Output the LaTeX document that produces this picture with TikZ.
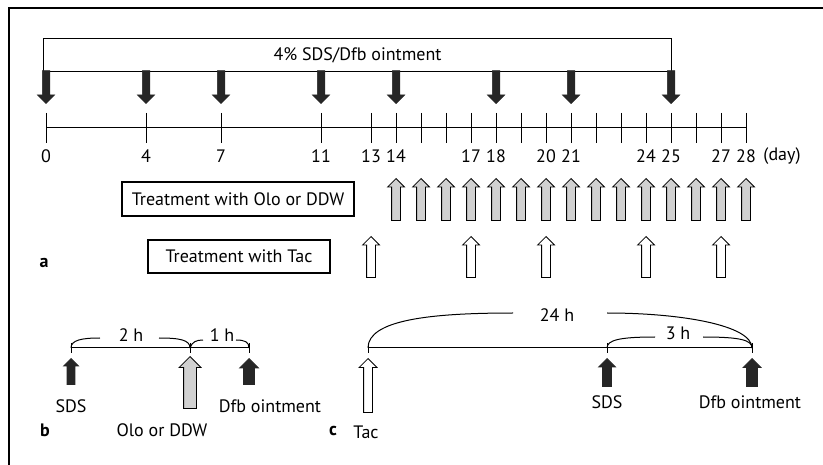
\documentclass[tikz,border=0pt]{standalone}
\usepackage{fontspec}
\setmainfont{PT Sans}
\usetikzlibrary{shapes.arrows,calc}

\begin{document}
\begin{tikzpicture}[
  x=1pt, y=-1pt, line width=1pt,
  font=\fontsize{18}{21}\selectfont,
  box/.style={draw, line width=1.1pt, inner sep=0pt},
  blkdown/.style={single arrow, draw=black!85, fill=black!85, line width=0.5pt, inner sep=3.5pt,
    single arrow head extend=5pt, minimum height=33pt,
    shape border rotate=270, anchor=tip},
  grayup/.style={single arrow, draw, fill=black!18, line width=0.8pt, inner sep=4pt,
    single arrow head extend=4pt, minimum height=42pt,
    shape border rotate=90, anchor=tip},
  whiteup/.style={grayup, fill=white},
  blkup/.style={grayup, draw=black!85, fill=black!85},
  panel/.style={font=\fontsize{18}{21}\selectfont\bfseries},
]
\useasboundingbox (0,0) rectangle (823,465);
% frame
\draw[line width=1.6pt] (9,465) -- (9,8) -- (823,8);

% a: ointment bar and day axis
\node[box, minimum width=628pt, minimum height=33pt, anchor=north west] (bar) at (43,38) {4\% SDS/Dfb ointment};
\draw (46,128) -- (746,128);
\foreach \d in {0,4,7,11,13,14,...,28} {
  \coordinate (d\d) at ({46+25*\d},128);
  \draw ([yshift=15pt]d\d) -- ([yshift=-15pt]d\d);
}
\foreach \d in {0,4,7,11,13,14,17,18,20,21,24,25,27,28}
  \node (l\d) at ({46+25*\d},156) {\d};
\node (unit) at (782,156) {(day)};
\foreach \d in {0,4,7,11,14,18,21,25}
  \node[blkdown] (oint\d) at ({46+25*\d},104) {};

% treatment rows
\node[box, minimum width=232pt, minimum height=34pt] (olo) at (238,199) {Treatment with Olo or DDW};
\foreach \d in {14,...,28}
  \node[grayup] (olo\d) at ({46+25*\d},178) {};
\node[box, minimum width=182pt, minimum height=33pt] (tac) at (239,256.5) {Treatment with Tac};
\foreach \d in {13,17,20,24,27}
  \node[whiteup, minimum height=41pt] (tac\d) at ({46+25*\d},236) {};
\node[panel] (pa) at (44,263) {a};

% b: one day, SDS -> Olo/DDW -> Dfb
\coordinate (bsds) at (71,348);
\coordinate (bolo) at (190,348);
\coordinate (bdfb) at (249,348);
\draw (bsds) -- (bdfb);
\foreach \c in {bsds,bolo,bdfb}
  \draw ([yshift=5pt]\c) -- ([yshift=-5pt]\c);
\node (b2h) at (131,335) {2 h};
\node (b1h) at (222,335) {1 h};
\draw (bsds) .. controls (71,340) and (82,338) .. (100,338);
\draw (bolo) .. controls (190,340) and (180,338) .. (159,338);
\draw (bolo) .. controls (192,342) and (196,340) .. (203,340);
\draw (bdfb) .. controls (249,342) and (245,340) .. (236,340);
\node[blkup, inner sep=3.5pt, single arrow head extend=3.5pt, minimum height=26pt] (sdsb) at (71,358) {};
\node[grayup, inner sep=6pt, single arrow head extend=4.5pt, minimum height=52pt] (olob) at (190,356) {};
\node[blkup, inner sep=5pt, single arrow head extend=4pt, minimum height=26pt] (dfbb) at (249,358) {};
\node (sdsbl) at (71,406) {SDS};
\node (dfbbl) at (270,406) {Dfb ointment};
\node (olobl) at (162,430) {Olo or DDW};
\node[panel] (pb) at (45,430) {b};

% c: Tac 24 h before, SDS 3 h before Dfb
\coordinate (ctac) at (368,348);
\coordinate (csds) at (607,348);
\coordinate (cdfb) at (752,348);
\draw (ctac) -- (cdfb);
\foreach \c in {ctac,csds,cdfb}
  \draw ([yshift=5pt]\c) -- ([yshift=-5pt]\c);
\node (c24h) at (557,315) {24 h};
\node (c3h) at (678,333) {3 h};
\draw (ctac) .. controls (368,320) and (430,313) .. (513,313);
\draw (cdfb) .. controls (752,325) and (680,313) .. (607,313);
\draw (csds) .. controls (607,340) and (620,337) .. (655,337);
\draw (cdfb) .. controls (752,340) and (740,337) .. (703,337);
\node[whiteup, inner sep=4pt, single arrow head extend=4.5pt, minimum height=54pt] (tacc) at (368,358) {};
\node[blkup, inner sep=4pt, single arrow head extend=4pt, minimum height=28pt] (sdsc) at (607,358) {};
\node[blkup, inner sep=5pt, single arrow head extend=3.5pt, minimum height=28pt] (dfbc) at (752,358) {};
\node (tacl) at (366,432) {Tac};
\node (sdscl) at (607,402) {SDS};
\node (dfbcl) at (750,402) {Dfb ointment};
\node[panel] (pc) at (333,431) {c};
\end{tikzpicture}
\end{document}
